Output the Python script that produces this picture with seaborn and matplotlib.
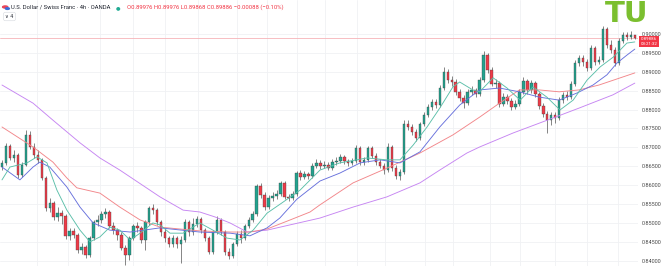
import numpy as np
import pandas as pd
import matplotlib
matplotlib.use("Agg")
import matplotlib.pyplot as plt
from matplotlib.patches import Circle
import seaborn as sns

# ---------------- data (USD/CHF, 4h candles) ----------------
open_ = [0.8648, 0.8659, 0.8704, 0.8672, 0.8680, 0.8627, 0.8653, 0.8733, 0.8701, 0.8680,
         0.8667, 0.8619, 0.8540, 0.8553, 0.8516, 0.8526, 0.8518, 0.8466, 0.8479, 0.8468,
         0.8428, 0.8436, 0.8415, 0.8460, 0.8503, 0.8508, 0.8524, 0.8529, 0.8492, 0.8481,
         0.8468, 0.8434, 0.8415, 0.8460, 0.8492, 0.8487, 0.8455, 0.8503, 0.8540, 0.8534,
         0.8503, 0.8476, 0.8460, 0.8444, 0.8460, 0.8444, 0.8455, 0.8503, 0.8476, 0.8497,
         0.8510, 0.8481, 0.8460, 0.8423, 0.8476, 0.8508, 0.8476, 0.8423, 0.8413, 0.8444,
         0.8471, 0.8460, 0.8492, 0.8508, 0.8524, 0.8598, 0.8574, 0.8542, 0.8566, 0.8571,
         0.8577, 0.8606, 0.8569, 0.8566, 0.8577, 0.8632, 0.8622, 0.8630, 0.8624, 0.8651,
         0.8659, 0.8651, 0.8653, 0.8645, 0.8661, 0.8664, 0.8675, 0.8664, 0.8659, 0.8664,
         0.8698, 0.8661, 0.8667, 0.8698, 0.8677, 0.8661, 0.8651, 0.8640, 0.8701, 0.8645,
         0.8624, 0.8635, 0.8762, 0.8754, 0.8741, 0.8725, 0.8762, 0.8786, 0.8807, 0.8820,
         0.8812, 0.8857, 0.8899, 0.8878, 0.8873, 0.8847, 0.8831, 0.8817, 0.8847, 0.8852,
         0.8841, 0.8878, 0.8944, 0.8905, 0.8868, 0.8870, 0.8815, 0.8833, 0.8823, 0.8807,
         0.8815, 0.8847, 0.8876, 0.8852, 0.8870, 0.8841, 0.8809, 0.8788, 0.8772, 0.8786,
         0.8778, 0.8825, 0.8839, 0.8833, 0.8868, 0.8923, 0.8936, 0.8926, 0.8910, 0.8963,
         0.8926, 0.8931, 0.9013, 0.8971, 0.8958, 0.8923, 0.8981, 0.8997, 0.8992, 0.8998]
high = [0.8667, 0.8712, 0.8709, 0.8693, 0.8685, 0.8661, 0.8746, 0.8743, 0.8712, 0.8693,
        0.8672, 0.8624, 0.8566, 0.8558, 0.8542, 0.8534, 0.8524, 0.8487, 0.8487, 0.8473,
        0.8447, 0.8442, 0.8466, 0.8508, 0.8521, 0.8532, 0.8540, 0.8534, 0.8503, 0.8487,
        0.8476, 0.8442, 0.8466, 0.8497, 0.8503, 0.8492, 0.8508, 0.8545, 0.8550, 0.8540,
        0.8508, 0.8487, 0.8466, 0.8468, 0.8466, 0.8466, 0.8510, 0.8508, 0.8513, 0.8518,
        0.8516, 0.8487, 0.8466, 0.8481, 0.8518, 0.8513, 0.8481, 0.8434, 0.8450, 0.8479,
        0.8481, 0.8497, 0.8516, 0.8532, 0.8603, 0.8606, 0.8582, 0.8574, 0.8582, 0.8587,
        0.8611, 0.8611, 0.8577, 0.8585, 0.8637, 0.8640, 0.8637, 0.8635, 0.8659, 0.8669,
        0.8667, 0.8664, 0.8661, 0.8669, 0.8675, 0.8682, 0.8680, 0.8669, 0.8672, 0.8706,
        0.8704, 0.8675, 0.8704, 0.8704, 0.8685, 0.8669, 0.8659, 0.8712, 0.8706, 0.8653,
        0.8643, 0.8772, 0.8772, 0.8762, 0.8749, 0.8767, 0.8794, 0.8815, 0.8828, 0.8828,
        0.8865, 0.8913, 0.8907, 0.8889, 0.8881, 0.8854, 0.8839, 0.8854, 0.8862, 0.8857,
        0.8886, 0.8955, 0.8950, 0.8913, 0.8881, 0.8876, 0.8844, 0.8841, 0.8831, 0.8825,
        0.8854, 0.8886, 0.8881, 0.8878, 0.8876, 0.8847, 0.8817, 0.8796, 0.8794, 0.8794,
        0.8833, 0.8847, 0.8849, 0.8876, 0.8931, 0.8944, 0.8944, 0.8934, 0.8971, 0.8968,
        0.8942, 0.9021, 0.9019, 0.8984, 0.8966, 0.8989, 0.9005, 0.9005, 0.9008, 0.8998]
low = [0.8640, 0.8653, 0.8667, 0.8661, 0.8619, 0.8622, 0.8651, 0.8696, 0.8672, 0.8659,
       0.8614, 0.8532, 0.8529, 0.8508, 0.8505, 0.8497, 0.8458, 0.8455, 0.8460, 0.8421,
       0.8418, 0.8407, 0.8410, 0.8455, 0.8492, 0.8500, 0.8513, 0.8487, 0.8471, 0.8455,
       0.8428, 0.8389, 0.8402, 0.8455, 0.8476, 0.8447, 0.8428, 0.8495, 0.8524, 0.8495,
       0.8466, 0.8450, 0.8436, 0.8436, 0.8434, 0.8394, 0.8450, 0.8466, 0.8468, 0.8489,
       0.8473, 0.8452, 0.8418, 0.8418, 0.8471, 0.8468, 0.8415, 0.8405, 0.8407, 0.8439,
       0.8447, 0.8455, 0.8487, 0.8503, 0.8518, 0.8566, 0.8534, 0.8537, 0.8558, 0.8563,
       0.8571, 0.8563, 0.8558, 0.8561, 0.8571, 0.8614, 0.8616, 0.8616, 0.8619, 0.8645,
       0.8643, 0.8645, 0.8640, 0.8640, 0.8653, 0.8659, 0.8656, 0.8651, 0.8653, 0.8659,
       0.8653, 0.8653, 0.8661, 0.8672, 0.8653, 0.8645, 0.8630, 0.8635, 0.8637, 0.8616,
       0.8614, 0.8630, 0.8746, 0.8733, 0.8717, 0.8720, 0.8757, 0.8780, 0.8799, 0.8804,
       0.8807, 0.8852, 0.8870, 0.8862, 0.8839, 0.8823, 0.8804, 0.8812, 0.8839, 0.8833,
       0.8836, 0.8873, 0.8897, 0.8862, 0.8857, 0.8807, 0.8809, 0.8815, 0.8799, 0.8802,
       0.8809, 0.8841, 0.8841, 0.8844, 0.8833, 0.8802, 0.8780, 0.8738, 0.8759, 0.8765,
       0.8772, 0.8817, 0.8825, 0.8828, 0.8862, 0.8915, 0.8915, 0.8902, 0.8905, 0.8918,
       0.8921, 0.8926, 0.8963, 0.8950, 0.8915, 0.8918, 0.8976, 0.8984, 0.8987, 0.8987]
close = [0.8659, 0.8704, 0.8672, 0.8680, 0.8627, 0.8653, 0.8733, 0.8701, 0.8680, 0.8667,
         0.8619, 0.8540, 0.8553, 0.8516, 0.8526, 0.8518, 0.8466, 0.8479, 0.8468, 0.8428,
         0.8436, 0.8415, 0.8460, 0.8503, 0.8508, 0.8524, 0.8529, 0.8492, 0.8481, 0.8468,
         0.8434, 0.8415, 0.8460, 0.8492, 0.8487, 0.8455, 0.8503, 0.8540, 0.8534, 0.8503,
         0.8476, 0.8460, 0.8444, 0.8460, 0.8444, 0.8455, 0.8503, 0.8476, 0.8497, 0.8510,
         0.8481, 0.8460, 0.8423, 0.8476, 0.8508, 0.8476, 0.8423, 0.8413, 0.8444, 0.8471,
         0.8460, 0.8492, 0.8508, 0.8524, 0.8598, 0.8574, 0.8542, 0.8566, 0.8571, 0.8577,
         0.8606, 0.8569, 0.8566, 0.8577, 0.8632, 0.8622, 0.8630, 0.8624, 0.8651, 0.8659,
         0.8651, 0.8653, 0.8645, 0.8661, 0.8664, 0.8675, 0.8664, 0.8659, 0.8664, 0.8698,
         0.8661, 0.8667, 0.8698, 0.8677, 0.8661, 0.8651, 0.8640, 0.8701, 0.8645, 0.8624,
         0.8635, 0.8762, 0.8754, 0.8741, 0.8725, 0.8762, 0.8786, 0.8807, 0.8820, 0.8812,
         0.8857, 0.8899, 0.8878, 0.8873, 0.8847, 0.8831, 0.8817, 0.8847, 0.8852, 0.8841,
         0.8878, 0.8944, 0.8905, 0.8868, 0.8870, 0.8815, 0.8833, 0.8823, 0.8807, 0.8815,
         0.8847, 0.8876, 0.8852, 0.8870, 0.8841, 0.8809, 0.8788, 0.8772, 0.8786, 0.8778,
         0.8825, 0.8839, 0.8833, 0.8868, 0.8923, 0.8936, 0.8926, 0.8910, 0.8963, 0.8926,
         0.8931, 0.9013, 0.8971, 0.8958, 0.8923, 0.8981, 0.8997, 0.8992, 0.8997, 0.8989]

# moving-average overlays, read at sample positions (bar index, price)
ma_fast_idx = [0, 2, 6.3, 8.8, 11.3, 13.8, 16.3, 19.6, 22.1, 24.6, 27.1, 29.6, 32.2, 34.7,
               37.9, 39.7, 42.2, 45.5, 49.7, 53, 56.5, 59.8, 63.1, 66.6, 70.6, 74.9, 79.9,
               84.9, 91.7, 96.7, 100, 103.3, 106.8, 110, 113.3, 115, 118.3, 120, 123.4,
               126.9, 130.2, 133.4, 136.9, 140.2, 143.5, 147, 150.3, 153.6, 157, 159]
ma_fast = [0.8614, 0.8648, 0.8659, 0.8675, 0.8659, 0.8587, 0.8534, 0.8481, 0.8450, 0.8463,
           0.8489, 0.8481, 0.8455, 0.8473, 0.8500, 0.8495, 0.8473, 0.8473, 0.8500, 0.8481,
           0.8460, 0.8455, 0.8481, 0.8526, 0.8555, 0.8587, 0.8640, 0.8659, 0.8672, 0.8667,
           0.8667, 0.8706, 0.8754, 0.8804, 0.8860, 0.8873, 0.8852, 0.8847, 0.8884, 0.8857,
           0.8825, 0.8860, 0.8833, 0.8799, 0.8825, 0.8878, 0.8913, 0.8939, 0.8976, 0.8979]
ma_mid_idx = [0, 4.5, 7.8, 9.5, 12, 16.3, 19.6, 22.9, 27.1, 32.2, 39.7, 49.7, 57.3, 62.3,
              66.6, 69.8, 74.1, 79.9, 84.9, 90, 95, 100, 105, 110, 115, 120, 125, 130,
              135, 140, 144.5, 148.5, 152, 154.5, 157, 159]
ma_mid = [0.8648, 0.8614, 0.8648, 0.8661, 0.8648, 0.8595, 0.8542, 0.8500, 0.8481, 0.8476,
          0.8487, 0.8476, 0.8473, 0.8466, 0.8487, 0.8513, 0.8563, 0.8611, 0.8632, 0.8659,
          0.8667, 0.8659, 0.8688, 0.8754, 0.8812, 0.8852, 0.8857, 0.8847, 0.8833, 0.8825,
          0.8844, 0.8865, 0.8892, 0.8923, 0.8944, 0.8960]
ma_slow_idx = [0, 7.8, 12.8, 16.3, 18.8, 24.6, 29.6, 34.7, 39.7, 49.7, 57.3, 62.3, 66.6,
               72.4, 77.4, 79.9, 88.2, 96.7, 105, 113.3, 120, 125, 130, 135, 140, 145,
               150, 159]
ma_slow = [0.8754, 0.8701, 0.8661, 0.8619, 0.8593, 0.8579, 0.8542, 0.8508, 0.8489, 0.8479,
           0.8476, 0.8476, 0.8484, 0.8508, 0.8529, 0.8548, 0.8606, 0.8645, 0.8685, 0.8733,
           0.8780, 0.8817, 0.8852, 0.8852, 0.8847, 0.8852, 0.8865, 0.8897]
ma_long_idx = [0, 7.8, 12.8, 19.6, 24.6, 29.6, 39.7, 45.5, 49.7, 53.5, 57.3, 61.6, 66.6,
               72.4, 79.9, 88.2, 96.7, 105, 110, 116.8, 120, 128.4, 137, 145, 153.5, 159]
ma_long = [0.8865, 0.8817, 0.8772, 0.8712, 0.8672, 0.8640, 0.8569, 0.8534, 0.8529, 0.8516,
           0.8500, 0.8476, 0.8481, 0.8495, 0.8513, 0.8542, 0.8569, 0.8606, 0.8640, 0.8685,
           0.8701, 0.8738, 0.8772, 0.8804, 0.8839, 0.8870]

price_ticks = [0.840, 0.845, 0.850, 0.855, 0.860, 0.865, 0.870, 0.875, 0.880, 0.885,
               0.890, 0.895, 0.900]
time_grid = [8.8, 16.6, 24.6, 32.9, 41, 49.2, 59.0, 66.6, 74.1, 81.2, 89.2, 96.2, 106.3,
             113.3, 122.6, 130.2, 138.9, 147, 154.8]
last_price = 0.89886
title = "U.S. Dollar / Swiss Franc · 4h · OANDA"
ohlc_text = "O0.89976 H0.89976 L0.89868 C0.89886 −0.00088 (−0.10%)"
countdown = "03:21:32"

# ---------------- drawing ----------------
sns.set_theme(style="white")
plt.rcParams['font.family'] = ['Roboto', 'DejaVu Sans']

W, H = 662, 266
fig = plt.figure(figsize=(W / 100, H / 100), dpi=100)
ax = fig.add_axes([0, 0, 638 / W, 1])

o = np.array(open_); h = np.array(high); l = np.array(low); c = np.array(close)
idx = np.arange(len(c))
up = c >= o
UP, DN = '#22a38f', '#ef3b48'
body_col = np.where(up, UP, DN)

# grid
for p in price_ticks:
    ax.axhline(p, color='#f0f1f4', lw=0.6, zorder=0)
for g in time_grid:
    ax.axvline(g, color='#f0f1f4', lw=0.6, zorder=0)

# wicks + bodies
ax.vlines(idx, l, h, colors='#555555', lw=0.5, zorder=2)
bottoms = np.minimum(o, c)
heights = np.maximum(np.abs(c - o), 0.00006)
ax.bar(idx, heights, bottom=bottoms, width=0.62, color=body_col,
       edgecolor='#3d3d3d', linewidth=0.25, zorder=3)

# moving averages (seaborn)
ma_specs = [
    (ma_long_idx, ma_long, '#c685f2'),
    (ma_slow_idx, ma_slow, '#f2868a'),
    (ma_mid_idx, ma_mid, '#6770dc'),
    (ma_fast_idx, ma_fast, '#5bbfa9'),
]
for xi, yi, col in ma_specs:
    sns.lineplot(x=xi, y=yi, color=col, linewidth=0.65, ax=ax, zorder=4,
                 estimator=None, sort=False)

# last price line
ax.axhline(last_price, color='#f6b3b8', lw=0.6, zorder=1)

ax.set_xlim(-0.5, 159.8)
ax.set_ylim(0.838612, 0.908996)
for s in ax.spines.values():
    s.set_visible(False)
ax.set_xticks([])
ax.yaxis.tick_right()
ax.set_yticks(price_ticks)
ax.set_yticklabels([f"{p:.5f}" for p in price_ticks])
ax.tick_params(axis='y', length=0, pad=2.5, labelsize=4.0, labelcolor='#4a4a4a')
ax.set_xlabel(''); ax.set_ylabel('')


def fx(x):
    return x / W


def fy(y):
    return 1 - y / H


# header
fig.add_artist(Circle((fx(5.2), fy(7)), 2.6 / W, transform=fig.transFigure,
                      color='#e9455a', zorder=10))
fig.add_artist(Circle((fx(7.4), fy(8.6)), 2.0 / W, transform=fig.transFigure,
                      color='#3b6fd8', zorder=11))
fig.text(fx(11), fy(7.2), title, fontsize=4.25, color='#1e222d', va='center', ha='left')
fig.text(fx(118.5), fy(7.2), '●', fontsize=3.8, color='#22ab94', va='center', ha='center',
         family='DejaVu Sans')
fig.text(fx(127), fy(7.2), ohlc_text, fontsize=4.2, color='#f23645', va='center', ha='left')
fig.text(fx(9.5), fy(16.5), '∨ 4', fontsize=3.6, color='#1e222d', va='center', ha='center',
         family='DejaVu Sans',
         bbox=dict(boxstyle='round,pad=0.35', facecolor='white', edgecolor='#d5d8de', lw=0.4))

# logo
fig.text(fx(627), fy(13.5), 'TU', fontsize=21, fontweight='heavy', color='#7bbf2f',
         va='center', ha='center', family='DejaVu Sans')

# price tag
fig.text(fx(649), fy(41.8), f"{last_price:.5f}\n{countdown}", fontsize=3.2, color='white',
         va='center', ha='center', linespacing=1.25,
         bbox=dict(boxstyle='square,pad=0.25', facecolor='#f23645', edgecolor='none'))

fig.savefig('out.png', dpi=100)
